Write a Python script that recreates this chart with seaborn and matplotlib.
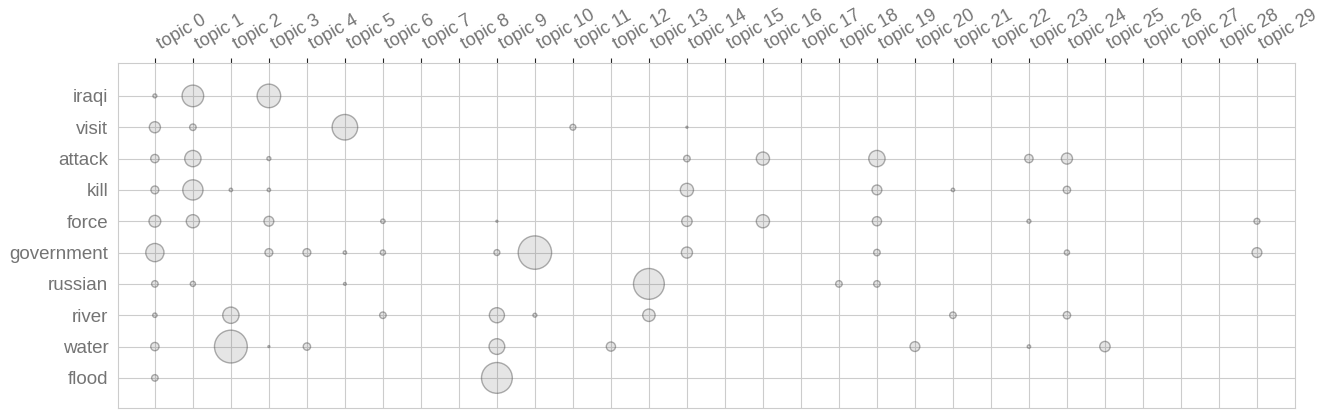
import matplotlib
matplotlib.use('Agg')
import matplotlib.pyplot as plt
import seaborn as sns
import pandas as pd

terms = ['iraqi', 'visit', 'attack', 'kill', 'force',
         'government', 'russian', 'river', 'water', 'flood']
topics = ['topic %d' % i for i in range(30)]

# term-topic weights (only the non-empty cells)
point_term = (['iraqi'] * 3 + ['visit'] * 5 + ['attack'] * 8 + ['kill'] * 8
              + ['force'] * 10 + ['government'] * 11 + ['russian'] * 6
              + ['river'] * 8 + ['water'] * 9 + ['flood'] * 2)
point_topic = [0, 1, 3,
               0, 1, 5, 11, 14,
               0, 1, 3, 14, 16, 19, 23, 24,
               0, 1, 2, 3, 14, 19, 21, 24,
               0, 1, 3, 6, 9, 14, 16, 19, 23, 29,
               0, 3, 4, 5, 6, 9, 10, 14, 19, 24, 29,
               0, 1, 5, 13, 18, 19,
               0, 2, 6, 9, 10, 13, 21, 24,
               0, 2, 3, 4, 9, 12, 20, 23, 25,
               0, 9]
point_weight = [4, 121, 144,
                32, 11, 169, 9, 1,
                18, 69, 4, 11, 45, 69, 18, 32,
                16, 106, 3, 3, 45, 25, 3, 14,
                36, 45, 25, 5, 1, 28, 45, 22, 4, 9,
                86, 16, 16, 3, 7, 9, 289, 32, 11, 7, 25,
                11, 7, 2, 246, 11, 11,
                5, 69, 11, 59, 4, 40, 11, 14,
                18, 279, 1, 14, 64, 22, 25, 3, 28,
                11, 246]

df = pd.DataFrame({'term': point_term, 'topic': point_topic, 'weight': point_weight})
df['row'] = df['term'].map({t: i for i, t in enumerate(terms)})

sns.set_style('whitegrid')
plt.rcParams['font.family'] = ['Liberation Sans', 'DejaVu Sans']
text_gray = '#747474'

fig, ax = plt.subplots(figsize=(13.35, 4.19), dpi=100)
fig.subplots_adjust(left=0.0884, right=0.970, top=0.8496, bottom=0.0263)

wmax = max(point_weight)
sns.scatterplot(data=df, x='topic', y='row', size='weight',
                sizes=(0, 2.0 * wmax), size_norm=(0, wmax),
                facecolor=(0.5, 0.5, 0.5, 0.2), edgecolor=(0.3, 0.3, 0.3, 0.45),
                linewidth=1, legend=False, ax=ax)

ax.xaxis.tick_top()
ax.set_xticks(range(len(topics)))
ax.set_xticklabels(topics, rotation=30, ha='left', fontsize=13, color=text_gray)
ax.set_yticks(range(len(terms)))
ax.set_yticklabels(terms, fontsize=13.5, color=text_gray)
ax.set_xlim(-0.97, 30)
ax.set_ylim(9.96, -1.05)
ax.set_xlabel('')
ax.set_ylabel('')

fig.savefig('out.png', dpi=100)
